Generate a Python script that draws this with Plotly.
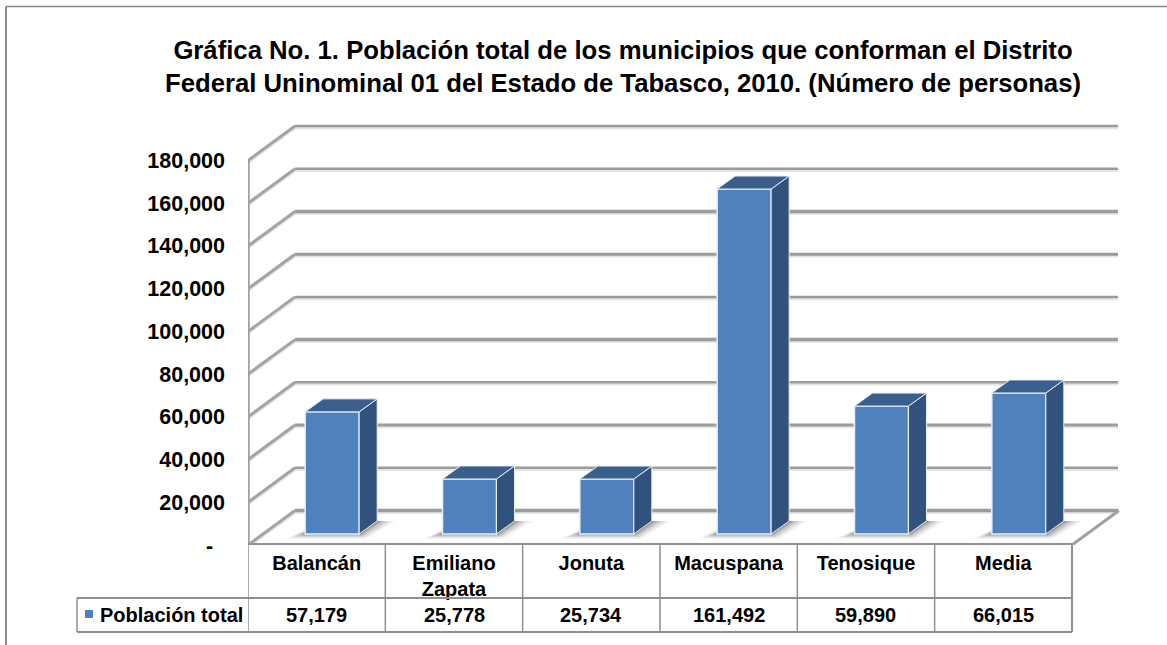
import plotly.graph_objects as go

categories = ["Balancán", "Emiliano<br>Zapata", "Jonuta", "Macuspana", "Tenosique", "Media"]
table_values = ["57,179", "25,778", "25,734", "161,492", "59,890", "66,015"]
poblacion = [57179, 25778, 25734, 161492, 59890, 66015]
tick_vals = [0, 20000, 40000, 60000, 80000, 100000, 120000, 140000, 160000, 180000]
tick_text = ["-\u00a0\u00a0"] + [f"{v:,}" for v in tick_vals[1:]]
series_name = "Población total"
title = ("Gráfica No. 1. Población total de los municipios que conforman el Distrito<br>"
         "Federal Uninominal 01 del Estado de Tabasco, 2010. (Número de personas)")

W, H = 1167, 645
L, R, T, B = 248, 1125, 120, 545
PX_X = 137.33            # pixels per category slot
PX_Y = 384.5 / 180000    # pixels per person
GRID_W = [3.5, 2.5, 3, 2.5, 3.5, 2.5, 3, 3.5, 2.5, 2.5]

def dx(px): return px / PX_X
def dy(px): return px / PX_Y
def paper(px): return (B - px) / (B - T)
def paper_x(px): return (px - L) / (R - L)

wall_dx, wall_dy = dx(47), dy(34.5)
bar_w, bar_shift, bar_base = dx(54), dx(15.5), dy(11)
side_dx, side_dy = dx(18), dy(13)
FRONT, SIDE, TOP = "#4f81bd", "#30527c", "#3a5f8c"
GRID = "#9c9c9c"
LINE = "#8f8f8f"
EDGE = "#e8eef6"

shapes = []
def seg(x0, y0, x1, y1, color=GRID, width=2):
    shapes.append(dict(type="line", layer="below", xref="x", yref="y", x0=x0, y0=y0, x1=x1, y1=y1,
                       line=dict(color=color, width=width)))

n = len(categories)
back_end = n + wall_dx - dx(1)
for v, w in zip(tick_vals, GRID_W):
    yb = v + wall_dy
    seg(wall_dx, yb - dy(2), back_end, yb - dy(2), "#e4e4e4", 2.5)
    seg(0, v - dy(2), wall_dx, yb - dy(2), "#e2e2e2", 2.5)
    seg(wall_dx, yb, back_end, yb, GRID, w)
    seg(0, v, wall_dx, yb, "#a4a4a4", 3)
# floor right edge and axis lines
seg(n, 0, n + wall_dx, wall_dy, "#a0a0a0", 3)
seg(0, 0, 0, tick_vals[-1], "#a0a0a0", 3.5)
seg(0, 0, n, 0, "#929292", 4)

# soft shadows on the floor
for i in range(n):
    x0 = i + bar_shift + (1 - bar_w) / 2
    x1 = x0 + bar_w
    for grow, alpha in [(18, .07), (14, .09), (10, .12), (6, .17), (3, .24)]:
        g = dx(grow)
        path = (f"M {x0-g} {bar_base-dy(grow*.25)} L {x1+g*.4} {bar_base-dy(grow*.25)} "
                f"L {x1+side_dx+g} {bar_base+side_dy} L {x0+side_dx} {bar_base+side_dy} Z")
        shapes.append(dict(type="path", layer="below", xref="x", yref="y", path=path,
                           fillcolor=f"rgba(60,60,60,{alpha})", line=dict(width=0)))

# table rules
for i in range(n + 1):
    shapes.append(dict(type="line", xref="x", yref="paper", x0=i, x1=i, y0=0, y1=paper(632),
                       line=dict(color=LINE, width=2 if i == n else 1.5)))
for y in (598, 632):
    shapes.append(dict(type="line", xref="paper", yref="paper",
                       x0=paper_x(77), x1=paper_x(1072), y0=paper(y), y1=paper(y),
                       line=dict(color=LINE, width=2)))
shapes.append(dict(type="line", xref="paper", yref="paper", x0=paper_x(77), x1=paper_x(77),
                   y0=paper(598), y1=paper(632), line=dict(color=LINE, width=1.5)))
# legend key
shapes.append(dict(type="rect", xref="paper", yref="paper", x0=paper_x(85), x1=paper_x(93),
                   y0=paper(610), y1=paper(618), fillcolor=FRONT, line=dict(width=0)))
# outer frame
shapes.append(dict(type="line", xref="paper", yref="paper", x0=paper_x(6), x1=paper_x(1167),
                   y0=paper(6.5), y1=paper(6.5), line=dict(color="#8a8a8a", width=1.5)))
shapes.append(dict(type="line", xref="paper", yref="paper", x0=paper_x(6), x1=paper_x(6),
                   y0=paper(6.5), y1=paper(645), line=dict(color="#8a8a8a", width=2)))

fig = go.Figure()
centres = [i + .5 + bar_shift for i in range(n)]
fig.add_trace(go.Bar(x=centres, y=poblacion, base=[bar_base] * n, width=bar_w, name=series_name,
                     marker=dict(color=FRONT, line=dict(color=EDGE, width=1.5)), showlegend=False))
for c, v in zip(centres, poblacion):
    xl, xr = c - bar_w / 2, c + bar_w / 2
    yb, yt = bar_base, bar_base + v
    fig.add_trace(go.Scatter(x=[xr, xr + side_dx, xr + side_dx, xr, xr], y=[yb, yb + side_dy, yt + side_dy, yt, yb],
                             mode="lines", fill="toself", fillcolor=SIDE, line=dict(color=EDGE, width=1),
                             hoverinfo="skip", showlegend=False))
    fig.add_trace(go.Scatter(x=[xl, xr, xr + side_dx, xl + side_dx, xl], y=[yt, yt, yt + side_dy, yt + side_dy, yt],
                             mode="lines", fill="toself", fillcolor=TOP, line=dict(color=EDGE, width=1),
                             hoverinfo="skip", showlegend=False))

font = dict(family="Liberation Sans, Arial, sans-serif", color="black")
annotations = [dict(x=i + .5, y=paper(615), xref="x", yref="paper", yanchor="middle", text=f"<b>{t}</b>", showarrow=False,
                    font=dict(size=20, **font)) for i, t in enumerate(table_values)]
annotations.append(dict(x=paper_x(100), y=paper(615), xref="paper", yref="paper", xanchor="left", yanchor="middle",
                        text=f"<b>{series_name}</b>", showarrow=False, xshift=-2, font=dict(size=20, **font)))

fig.update_layout(
    width=W, height=H, autosize=False, paper_bgcolor="white", plot_bgcolor="rgba(0,0,0,0)",
    margin=dict(l=L, r=W - R, t=T, b=H - B, pad=0), barmode="overlay", showlegend=False,
    title=dict(text=f"<b>{title}</b>", x=623 / W, xanchor="center", y=1 - 58.5 / H, yanchor="middle",
               font=dict(size=25.7, **font)),
    xaxis=dict(range=[0, (R - L) / PX_X], tickmode="array", tickvals=[i + .5 for i in range(n)], ticktext=[f"<b>{c}</b>" for c in categories],
               showgrid=False, zeroline=False, showline=False, ticks="", tickangle=0, ticklabelstandoff=4, tickfont=dict(size=20, **font)),
    yaxis=dict(range=[0, (B - T) / PX_Y], tickmode="array", tickvals=tick_vals, ticktext=[f"<b>{t}</b>" for t in tick_text],
               showgrid=False, zeroline=False, showline=False, ticks="", ticklabelstandoff=22, tickfont=dict(size=21.5, **font)),
    shapes=shapes, annotations=annotations,
)
fig.write_html("out.html", config={"displayModeBar": False},
               post_script="document.body.style.margin='0';document.documentElement.style.overflow='hidden';")
